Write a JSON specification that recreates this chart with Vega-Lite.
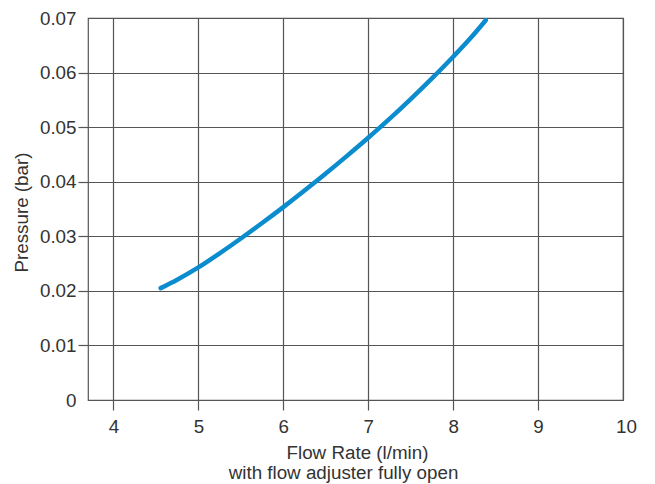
{
  "$schema": "https://vega.github.io/schema/vega-lite/v6.json",
  "width": 535,
  "height": 382,
  "autosize": {"type": "none"},
  "padding": {"left": 88, "top": 18, "right": 32, "bottom": 84},
  "background": "white",
  "view": {"stroke": "#555555", "strokeWidth": 1.2},
  "config": {
    "font": "Liberation Sans",
    "axis": {
      "labelFont": "Liberation Sans",
      "titleFont": "Liberation Sans",
      "labelFontSize": 18.8,
      "titleFontSize": 18.8,
      "labelColor": "#333333",
      "titleColor": "#333333",
      "titleFontWeight": "normal",
      "gridColor": "#555555",
      "gridOpacity": 1,
      "gridWidth": 1.2,
      "tickColor": "#555555",
      "tickWidth": 1.2,
      "tickSize": 10,
      "domain": false
    }
  },
  "title": {
    "text": "with flow adjuster fully open",
    "orient": "bottom",
    "anchor": "middle",
    "frame": "group",
    "font": "Liberation Sans",
    "fontSize": 18.8,
    "fontWeight": "normal",
    "color": "#333333",
    "baseline": "alphabetic",
    "offset": 17,
    "dx": -12
  },
  "data": {
    "values": [
      {"flow": 4.556, "pressure": 0.0205},
      {"flow": 4.75, "pressure": 0.02205},
      {"flow": 5.0, "pressure": 0.0243},
      {"flow": 5.25, "pressure": 0.02688},
      {"flow": 5.5, "pressure": 0.0296},
      {"flow": 5.75, "pressure": 0.03243},
      {"flow": 6.0, "pressure": 0.03535},
      {"flow": 6.25, "pressure": 0.03838},
      {"flow": 6.5, "pressure": 0.0415},
      {"flow": 6.75, "pressure": 0.04473},
      {"flow": 7.0, "pressure": 0.04805},
      {"flow": 7.25, "pressure": 0.0515},
      {"flow": 7.5, "pressure": 0.05513},
      {"flow": 7.75, "pressure": 0.05893},
      {"flow": 8.0, "pressure": 0.0629},
      {"flow": 8.2, "pressure": 0.06624},
      {"flow": 8.384, "pressure": 0.0696}
    ]
  },
  "mark": {"type": "line", "color": "#0a8ccf", "strokeWidth": 4.5, "interpolate": "monotone", "strokeCap": "round", "clip": true},
  "encoding": {
    "x": {
      "field": "flow",
      "type": "quantitative",
      "scale": {"domain": [3.7, 10], "nice": false, "zero": false},
      "axis": {
        "values": [4, 5, 6, 7, 8, 9, 10],
        "title": "Flow Rate (l/min)",
        "titleX": 269,
        "titleY": 58,
        "titleBaseline": "alphabetic",
        "titleAnchor": "middle",
        "titleAlign": "center",
        "labelBaseline": "alphabetic",
        "labelPadding": 22,
        "labelFlush": false,
        "labelOverlap": false,
        "labelOffset": {"condition": {"test": "datum.value >= 9.99", "value": 3}, "value": 0},
        "tickOpacity": {"condition": {"test": "datum.value >= 9.99", "value": 0}, "value": 1}
      }
    },
    "y": {
      "field": "pressure",
      "type": "quantitative",
      "scale": {"domain": [0, 0.07], "nice": false},
      "axis": {
        "values": [0, 0.01, 0.02, 0.03, 0.04, 0.05, 0.06, 0.07],
        "format": ".2~f",
        "title": "Pressure (bar)",
        "titleX": -57,
        "titleY": 194,
        "titleAngle": 270,
        "titleBaseline": "bottom",
        "titleAlign": "center",
        "labelPadding": 2,
        "labelFlush": false,
        "labelOverlap": false,
        "tickOpacity": {"condition": {"test": "datum.value <= 0.0001 || datum.value >= 0.0699", "value": 0}, "value": 1}
      }
    }
  }
}
